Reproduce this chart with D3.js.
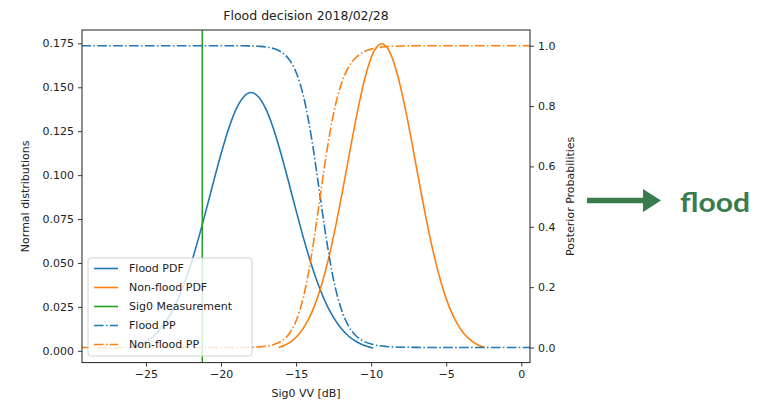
<!DOCTYPE html>
<html><head><meta charset="utf-8">
<script src="https://cdn.jsdelivr.net/npm/d3@7"></script>
<style>
html,body{margin:0;padding:0;background:#fff;}
svg{display:block;}
</style>
</head><body>
<svg id="chart" width="760" height="402"></svg>
<script>
// ---- data ----
const titleText = "Flood decision 2018/02/28";
const xLabel = "Sig0 VV [dB]";
const yLeftLabel = "Normal distributions";
const yRightLabel = "Posterior Probabilities";
const decisionText = "flood";

const sig0Measurement = -21.25;

const floodPdfX = [-26.14,-26,-25.5,-25,-24.5,-24,-23.5,-23,-22.5,-22,-21.5,-21,-20.5,-20,-19.5,-19,-18.5,-18,
                   -17.5,-17,-16.5,-16,-15.5,-15,-14.5,-14,-13.5,-13,-12.5,-12,-11.5,-11,-10.5,-10,-9.86];
const floodPdfY = [0.0016,0.0019,0.0032,0.0053,0.0083,0.0128,0.0189,0.0269,0.0372,0.0496,0.0640,0.0798,0.0962,0.1120,0.1262,0.1374,0.1445,0.1470,
                   0.1445,0.1374,0.1262,0.1120,0.0962,0.0798,0.0640,0.0496,0.0372,0.0269,0.0189,0.0128,0.0083,0.0053,0.0032,0.0019,0.0016];

const nonFloodPdfX = [-16.15,-15.8,-15.3,-14.8,-14.3,-13.8,-13.3,-12.8,-12.3,-11.8,-11.3,-10.8,-10.3,-9.8,-9.3,
                      -8.8,-8.3,-7.8,-7.3,-6.8,-6.3,-5.8,-5.3,-4.8,-4.3,-3.8,-3.3,-2.8,-2.45];
const nonFloodPdfY = [0.0019,0.0030,0.0055,0.0096,0.0159,0.0250,0.0376,0.0539,0.0737,0.0959,0.1191,0.1408,0.1588,0.1707,0.1748,
                      0.1707,0.1588,0.1408,0.1191,0.0959,0.0737,0.0539,0.0376,0.0250,0.0159,0.0096,0.0055,0.0030,0.0019];

const ppX = [-29.3,-20,-19,-18,-17.5,-17,-16.5,-16,-15.5,-15,-14.5,-14,-13.5,-13,-12.5,-12,-11.5,-11,-10.5,-10,-9.5,-9,-8,-7,-6,0.6];
const floodPP = [1.0,1.0,0.9999,0.9992,0.998,0.9957,0.9905,0.9795,0.9566,0.9118,0.8308,0.703,0.5364,0.3645,0.2238,0.1282,0.0706,0.0383,0.0208,0.0113,0.0062,0.0035,0.0011,0.0004,0.0001,0.0];
const nonFloodPP = [0.0,0.0,0.0001,0.0008,0.002,0.0043,0.0095,0.0205,0.0434,0.0882,0.1692,0.297,0.4636,0.6355,0.7762,0.8718,0.9294,0.9617,0.9792,0.9887,0.9938,0.9965,0.9989,0.9996,0.9999,1.0];

const xTicks = [-25,-20,-15,-10,-5,0];
const yLeftTicks = [0,0.025,0.05,0.075,0.1,0.125,0.15,0.175];
const yRightTicks = [0,0.2,0.4,0.6,0.8,1.0];

const legendLabels = ["Flood PDF","Non-flood PDF","Sig0 Measurement","Flood PP","Non-flood PP"];

// ---- styling ----
const C_BLUE = "#1f77b4", C_ORANGE = "#ff7f0e", C_GREEN = "#22a022", C_DEC = "#3a7b4d";
const DASHDOT = "9.6,2.4,1.5,2.4";
const FONT = "'DejaVu Sans', sans-serif";

const plot = {left:82, right:530, top:30, bottom:362.6};

const svg = d3.select("#chart");

const x = d3.scaleLinear().domain([-29.26, 0.58]).range([plot.left, plot.right]);
const yL = d3.scaleLinear().domain([-0.0067, 0.1826]).range([plot.bottom, plot.top]);
const yR = d3.scaleLinear().domain([-0.05, 1.052]).range([plot.bottom, plot.top]);

svg.append("defs").append("clipPath").attr("id","clip")
  .append("rect").attr("x",plot.left).attr("y",plot.top)
  .attr("width",plot.right-plot.left).attr("height",plot.bottom-plot.top);

const g = svg.append("g").attr("clip-path","url(#clip)");

function series(xs, ys){ return xs.map((v,i)=>[v, ys[i]]); }

const lineL = d3.line().x(d=>x(d[0])).y(d=>yL(d[1])).curve(d3.curveMonotoneX);
const lineR = d3.line().x(d=>x(d[0])).y(d=>yR(d[1])).curve(d3.curveMonotoneX);

g.append("path").datum(series(floodPdfX, floodPdfY)).attr("d", lineL)
  .attr("fill","none").attr("stroke",C_BLUE).attr("stroke-width",1.6);
g.append("path").datum(series(nonFloodPdfX, nonFloodPdfY)).attr("d", lineL)
  .attr("fill","none").attr("stroke",C_ORANGE).attr("stroke-width",1.6);
g.append("line").attr("x1",x(sig0Measurement)).attr("x2",x(sig0Measurement))
  .attr("y1",plot.top).attr("y2",plot.bottom)
  .attr("stroke",C_GREEN).attr("stroke-width",1.5);
g.append("path").datum(series(ppX, floodPP)).attr("d", lineR)
  .attr("fill","none").attr("stroke",C_BLUE).attr("stroke-width",1.6).attr("stroke-dasharray",DASHDOT);
g.append("path").datum(series(ppX, nonFloodPP)).attr("d", lineR)
  .attr("fill","none").attr("stroke",C_ORANGE).attr("stroke-width",1.6).attr("stroke-dasharray",DASHDOT);

// axes
function styleAxis(sel){
  sel.select(".domain").remove();
  sel.selectAll(".tick line").attr("stroke","#222").attr("stroke-width",0.9);
  sel.selectAll(".tick text").attr("fill","#222").style("font-family",FONT).style("font-size","11px");
}
svg.append("g").attr("transform",`translate(0,${plot.bottom})`)
  .call(d3.axisBottom(x).tickValues(xTicks).tickFormat(d3.format("d")).tickSize(4).tickPadding(4))
  .call(styleAxis);
svg.append("g").attr("transform",`translate(${plot.left},0)`)
  .call(d3.axisLeft(yL).tickValues(yLeftTicks).tickFormat(d3.format(".3f")).tickSize(4).tickPadding(4))
  .call(styleAxis);
svg.append("g").attr("transform",`translate(${plot.right},0)`)
  .call(d3.axisRight(yR).tickValues(yRightTicks).tickFormat(d3.format(".1f")).tickSize(4).tickPadding(4))
  .call(styleAxis);

// frame
svg.append("rect").attr("x",plot.left).attr("y",plot.top)
  .attr("width",plot.right-plot.left).attr("height",plot.bottom-plot.top)
  .attr("fill","none").attr("stroke","#222").attr("stroke-width",1);

// labels
svg.append("text").attr("x",(plot.left+plot.right)/2).attr("y",20)
  .attr("text-anchor","middle").style("font-family",FONT).style("font-size","12.5px").attr("fill","#222")
  .text(titleText);
svg.append("text").attr("x",(plot.left+plot.right)/2).attr("y",397)
  .attr("text-anchor","middle").style("font-family",FONT).style("font-size","11px").attr("fill","#222")
  .text(xLabel);
svg.append("text").attr("transform",`translate(29,${(plot.top+plot.bottom)/2}) rotate(-90)`)
  .attr("text-anchor","middle").style("font-family",FONT).style("font-size","11px").attr("fill","#222")
  .text(yLeftLabel);
svg.append("text").attr("transform",`translate(574,${(plot.top+plot.bottom)/2}) rotate(-90)`)
  .attr("text-anchor","middle").style("font-family",FONT).style("font-size","11px").attr("fill","#222")
  .text(yRightLabel);

// legend
const lg = svg.append("g");
lg.append("rect").attr("x",88).attr("y",258).attr("width",164).attr("height",98).attr("rx",3)
  .attr("fill","#fff").attr("fill-opacity",0.8).attr("stroke","#ccc").attr("stroke-width",0.9);
const legendStyles = [
  {c:C_BLUE, dash:null},{c:C_ORANGE, dash:null},{c:C_GREEN, dash:null},
  {c:C_BLUE, dash:DASHDOT},{c:C_ORANGE, dash:DASHDOT}];
legendLabels.forEach((lab,i)=>{
  const yy = 268.5 + i*19;
  const l = lg.append("line").attr("x1",94).attr("x2",118).attr("y1",yy).attr("y2",yy)
    .attr("stroke",legendStyles[i].c).attr("stroke-width",1.6);
  if(legendStyles[i].dash) l.attr("stroke-dasharray",legendStyles[i].dash);
  lg.append("text").attr("x",129).attr("y",yy).attr("dy","0.35em")
    .style("font-family",FONT).style("font-size","11px").attr("fill","#222").text(lab);
});

// decision arrow
svg.append("line").attr("x1",587).attr("x2",645).attr("y1",200.5).attr("y2",200.5)
  .attr("stroke",C_DEC).attr("stroke-width",5.5);
svg.append("path").attr("d","M643,189 L661,200.5 L643,212 Z").attr("fill",C_DEC);
svg.append("text").attr("x",680).attr("y",211.5)
  .attr("textLength",70).attr("lengthAdjust","spacingAndGlyphs")
  .style("font-family","Lato, 'Open Sans', sans-serif").style("font-weight","bold").style("font-size","27px")
  .attr("fill",C_DEC).text(decisionText);
</script>
</body></html>
